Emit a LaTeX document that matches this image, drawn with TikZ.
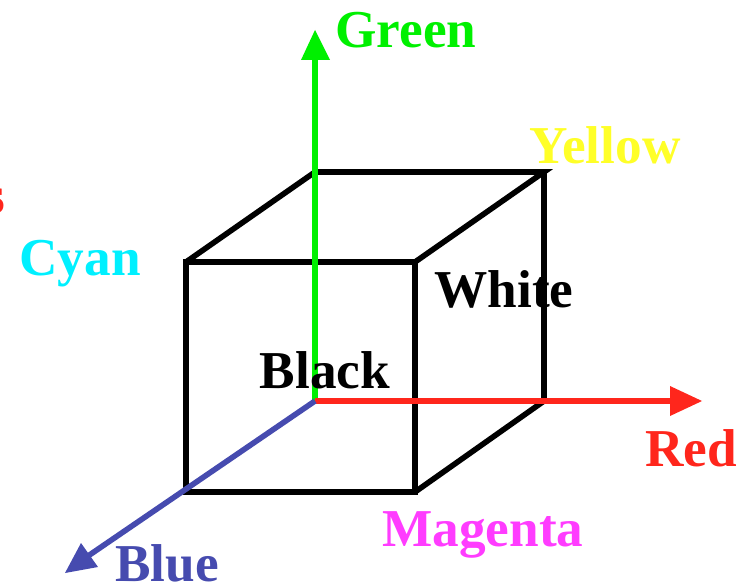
\documentclass[tikz,border=0pt]{standalone}
\usepackage{fontspec}
\setmainfont{Liberation Serif}
\definecolor{lgreen}{RGB}{0,240,0}
\definecolor{lred}{RGB}{255,38,28}
\definecolor{lblue}{RGB}{70,75,175}
\definecolor{lyellow}{RGB}{255,255,40}
\definecolor{lcyan}{RGB}{0,240,255}
\definecolor{lmag}{RGB}{255,60,255}
\tikzset{px/.style={x=0.0264cm,y=-0.0264cm},
 edgeline/.style={draw=black,line width=4.2pt,line join=miter},
 lab/.style={font=\bfseries\fontsize{40}{40}\selectfont,inner sep=0pt,anchor=base},
 axisline/.style={line width=4.2pt}}
\begin{document}
\begin{tikzpicture}[px]
\useasboundingbox (0,0) rectangle (746,584);
\coordinate (A) at (186,262);\coordinate (B) at (415,262);\coordinate (C) at (415,492);\coordinate (D) at (186,492);
\coordinate (E) at (315,172);\coordinate (F) at (544,172);\coordinate (G) at (544,401);
\coordinate (O) at (315,401);
\coordinate (GT) at (315,30);\coordinate (RT) at (702,401);\coordinate (BT) at (65,573);
\draw[edgeline] (A)--(B)--(C)--(D)--cycle;
\draw[edgeline] (A)--(E)--(F)--(B);
\draw[edgeline] (F)--(G)--(C);
\fill[lgreen] (GT)--(330,60)--(301,60)--cycle;
\draw[axisline,lgreen] (O)--(315,60);
\fill[lred] (RT)--(670,386)--(670,416)--cycle;
\draw[axisline,lred] (O)--(670,401);
\fill[lblue] (BT)--(81,543)--(98,567)--cycle;
\draw[axisline,lblue] (O)--(88,556);
\node[lab,lgreen] (ng) at (406,48) {Green};
\node[lab,lyellow] (ny) at (605,164) {Yellow};
\node[lab,lcyan] (nc) at (80,275) {Cyan};
\node[lab] (nw) at (504,307) {White};
\node[lab] (nk) at (325,388) {Black};
\node[lab,lred] (nr) at (691,466) {Red};
\node[lab,lmag] (nm) at (483,546) {Magenta};
\node[lab,lblue] (nb) at (167,581) {Blue};
\node[lab,lred,anchor=base west] (ns) at (-16,214) {s};
\end{tikzpicture}
\end{document}
